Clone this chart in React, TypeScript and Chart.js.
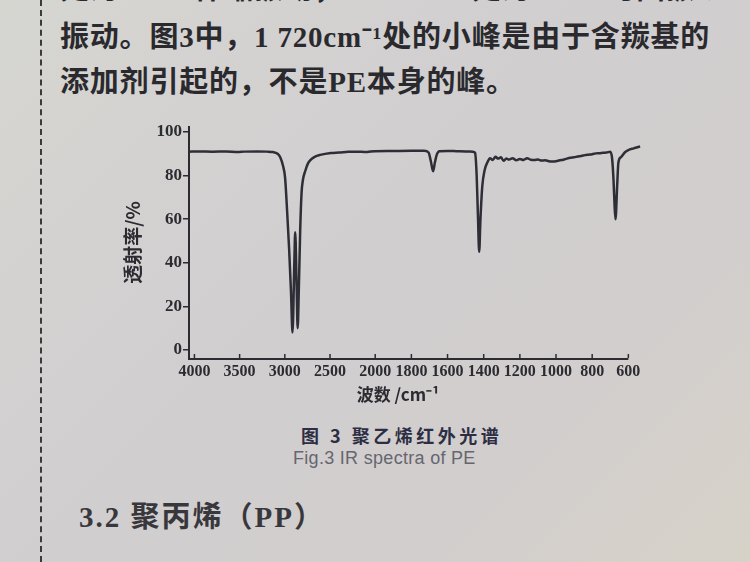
import React, { useEffect, useRef } from "react";
import { Chart, registerables } from "chart.js";

Chart.register(...registerables);

// Wavenumbers (cm^-1) and transmittance (%)
const wavenumbers: number[] = [
  4060, 3950, 3800, 3650, 3520, 3450, 3300, 3200, 3130, 3080, 3052, 3020, 2997, 2975, 2952, 2932,
  2915, 2895, 2885, 2870, 2858, 2845, 2830, 2815, 2800, 2775, 2745, 2720, 2670, 2610, 2490, 2400,
  2300, 2200, 2100, 2050, 2000, 1900, 1800, 1730, 1705, 1692, 1680, 1670, 1660, 1645, 1600, 1550,
  1500, 1460, 1448, 1440, 1432, 1425, 1418, 1408, 1395, 1380, 1365, 1350, 1335, 1320, 1305, 1290,
  1275, 1260, 1240, 1220, 1200, 1180, 1160, 1140, 1120, 1100, 1080, 1060, 1040, 1020, 1000, 980,
  960, 940, 920, 900, 880, 860, 840, 820, 800, 780, 760, 740, 720, 700, 690, 682, 676, 671, 662,
  655, 640, 620, 600, 570, 550, 535,
];
const transmittance: number[] = [
  91, 91.1, 91, 91.1, 90.8, 91, 91.1, 91, 90.8, 90, 88.5, 84.5, 79, 64, 46, 27,
  8, 40, 54, 30, 10, 28, 55, 72, 78, 82, 85.5, 87, 88.6, 89.5, 90.4, 90.6,
  90.9, 91, 90.8, 91.1, 91.2, 91.3, 91.4, 91.4, 90.6, 86.5, 82, 86, 89.5, 91.2, 91.3, 91.2,
  91.1, 91, 90.5, 82, 62, 45, 60, 75, 82.5, 86, 88, 87.2, 88.6, 87.8, 88.4, 86.8,
  87.8, 87.4, 88, 87, 87.6, 87.2, 88, 87.3, 87.1, 87.4, 86.9, 87, 86.6, 86.5, 86.6, 87,
  87.3, 87.8, 88.2, 88.4, 88.8, 89, 89.4, 89.6, 89.8, 90.2, 90.3, 90.5, 90.6, 91, 88, 78, 66, 60, 75,
  86, 88.5, 90.6, 91.7, 92.5, 93, 93.4,
];

const xTickValues: number[] = [4000, 3500, 3000, 2500, 2000, 1800, 1600, 1400, 1200, 1000, 800, 600];
const xTickLabels: string[] = ["4000", "3500", "3000", "2500", "2000", "1800", "1600", "1400", "1200", "1000", "800", "600"];
const yTickValues: number[] = [0, 20, 40, 60, 80, 100];
const yTickLabels: string[] = ["0", "20", "40", "60", "80", "100"];

const xTitle = "波数 /cm⁻¹\u3000\u3000";
const yTitle = "透射率/%";

// IR axis transform: 4000-2000 at 1000 cm^-1 per unit, below 2000 expanded 2x
const toPos = (w: number) => (w >= 2000 ? (4000 - w) / 1000 : 2 + (2000 - w) / 500);

const INK = "#2b2b31";

const axisDecor = {
  id: "axisDecor",
  afterDraw(chart: any) {
    const xs = chart.scales.x;
    const ctx = chart.ctx;
    ctx.save();
    ctx.strokeStyle = INK;
    // x axis line, ending at the last tick (600)
    ctx.lineWidth = 2;
    ctx.beginPath();
    ctx.moveTo(chart.chartArea.left - 1, xs.top + 1);
    ctx.lineTo(xs.getPixelForValue(toPos(xTickValues[xTickValues.length - 1])), xs.top + 1);
    ctx.stroke();
    // small inward tick marks
    ctx.lineWidth = 1.5;
    xTickValues.forEach((v) => {
      const px = xs.getPixelForValue(toPos(v));
      ctx.beginPath();
      ctx.moveTo(px, xs.top);
      ctx.lineTo(px, xs.top - 4);
      ctx.stroke();
    });
    ctx.restore();
  },
};

function SpectrumChart() {
  const ref = useRef<HTMLCanvasElement | null>(null);
  useEffect(() => {
    if (!ref.current) return;
    const chart = new Chart(ref.current, {
      type: "line",
      data: {
        datasets: [
          {
            data: wavenumbers.map((w, i) => ({ x: toPos(w), y: transmittance[i] })),
            borderColor: "#2e2e36",
            borderWidth: 2.5,
            pointRadius: 0,
            cubicInterpolationMode: "monotone",
            fill: false,
          },
        ],
      },
      options: {
        responsive: false,
        animation: false,
        devicePixelRatio: 1,
        layout: { padding: { left: 20, top: 17, right: 19, bottom: 0 } },
        plugins: { legend: { display: false }, tooltip: { enabled: false } },
        scales: {
          x: {
            type: "linear",
            min: -0.06,
            max: 4.94,
            afterBuildTicks: (s: any) => {
              s.ticks = xTickValues.map((v) => ({ value: toPos(v) }));
            },
            afterFit: (s: any) => {
              s.height = 52;
            },
            ticks: {
              autoSkip: false,
              maxRotation: 0,
              padding: 4,
              color: INK,
              font: { family: "Liberation Serif", size: 16, weight: "bold" },
              callback: (_v: any, i: number) => xTickLabels[i],
            },
            grid: { display: false, drawTicks: false },
            border: { display: false },
            title: {
              display: true,
              text: xTitle,
              color: INK,
              font: { family: "Noto Sans CJK SC", size: 17, weight: "bold" },
              padding: { top: 0, bottom: 5 },
            },
          },
          y: {
            min: -3.7,
            max: 102.3,
            afterBuildTicks: (s: any) => {
              s.ticks = yTickValues.map((v) => ({ value: v }));
            },
            afterFit: (s: any) => {
              s.width = 69;
            },
            ticks: {
              padding: 1,
              color: INK,
              font: { family: "Liberation Serif", size: 17, weight: "bold" },
              callback: (_v: any, i: number) => yTickLabels[i],
            },
            grid: { display: true, drawOnChartArea: false, drawTicks: true, tickLength: 6, color: INK, lineWidth: 1.5 },
            border: { display: true, color: INK, width: 2 },
            title: {
              display: true,
              text: yTitle,
              color: INK,
              font: { family: "Noto Sans CJK SC", size: 19, weight: "bold" },
              padding: { top: 1, bottom: 0 },
            },
          },
        },
      } as any,
      plugins: [axisDecor],
    });
    return () => chart.destroy();
  }, []);
  return (
    <canvas
      ref={ref}
      width={560}
      height={300}
      style={{ position: "absolute", left: 100, top: 110, width: 560, height: 300 }}
    />
  );
}

const bodyFont = '"Liberation Serif", "Noto Sans CJK SC", serif';

export default function App() {
  const textStyle: React.CSSProperties = {
    position: "absolute",
    fontFamily: bodyFont,
    fontWeight: 700,
    fontSize: 29,
    lineHeight: "44px",
    letterSpacing: 0.8,
    color: "#2a2a2e",
    whiteSpace: "nowrap",
  };
  return (
    <div
      style={{
        position: "absolute",
        left: 0,
        top: 0,
        width: 750,
        height: 562,
        overflow: "hidden",
        background: "linear-gradient(135deg, #d6d6d1 0%, #d1ced0 45%, #d2cecd 75%, #d7d2c8 100%)",
      }}
    >
      <div
        style={{
          position: "absolute",
          left: 40,
          top: 0,
          width: 0,
          height: 562,
          borderLeft: "2px dashed #3a3a3a",
        }}
      />
      <div style={{ ...textStyle, left: 60, top: -33, width: 650, textAlign: "right", overflow: "hidden" }}>
        处为C—H伸缩振动，1 470cm⁻¹处为C—H弯曲振动及CH₂面内弯曲
      </div>
      <div style={{ ...textStyle, left: 60, top: 15 }}>振动。图3中，1 720cm⁻¹处的小峰是由于含羰基的</div>
      <div style={{ ...textStyle, left: 60, top: 60 }}>添加剂引起的，不是PE本身的峰。</div>
      <SpectrumChart />
      <div
        style={{
          position: "absolute",
          left: 301,
          top: 424,
          fontFamily: '"Noto Sans CJK SC", sans-serif',
          fontWeight: 700,
          fontSize: 18,
          lineHeight: "22px",
          letterSpacing: 3.5,
          color: "#2c2e44",
          whiteSpace: "nowrap",
        }}
      >
        图 3 聚乙烯红外光谱
      </div>
      <div
        style={{
          position: "absolute",
          left: 293,
          top: 447,
          fontFamily: '"Liberation Sans", sans-serif',
          fontSize: 18,
          lineHeight: "22px",
          letterSpacing: 0.3,
          color: "#66666e",
          whiteSpace: "nowrap",
        }}
      >
        Fig.3 IR spectra of PE
      </div>
      <div
        style={{
          position: "absolute",
          left: 79,
          top: 499,
          fontFamily: bodyFont,
          fontWeight: 700,
          fontSize: 29,
          lineHeight: "36px",
          letterSpacing: 2,
          color: "#38383c",
          whiteSpace: "nowrap",
        }}
      >
        3.2 聚丙烯（PP）
      </div>
    </div>
  );
}
